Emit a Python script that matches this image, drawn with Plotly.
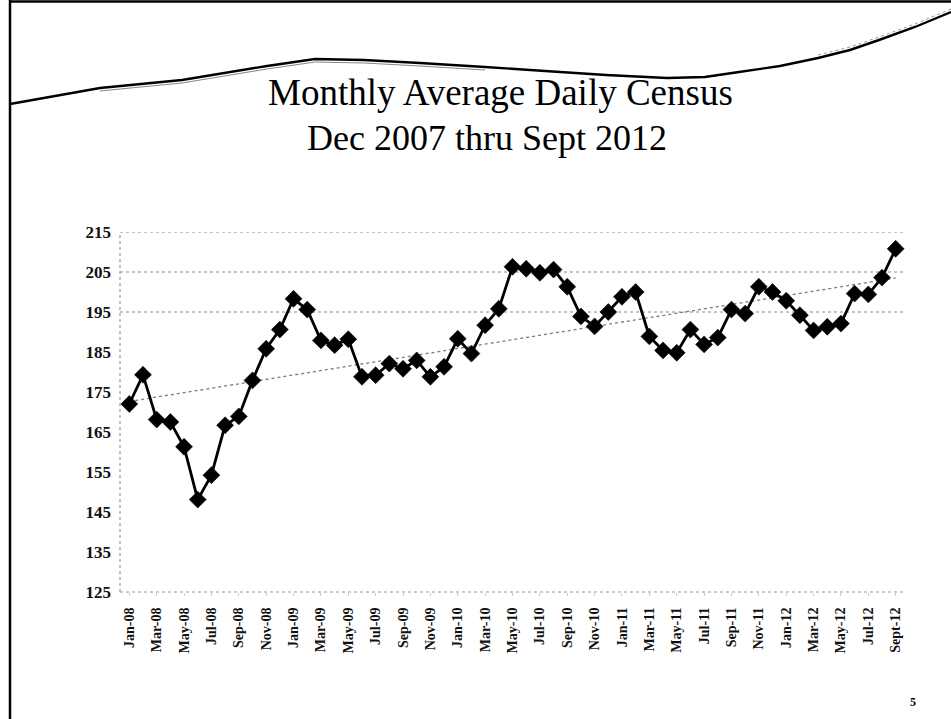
import numpy as np
import plotly.graph_objects as go

# ---------------- data ----------------
months = ["Jan-08", "Feb-08", "Mar-08", "Apr-08", "May-08", "Jun-08", "Jul-08", "Aug-08",
          "Sep-08", "Oct-08", "Nov-08", "Dec-08",
          "Jan-09", "Feb-09", "Mar-09", "Apr-09", "May-09", "Jun-09", "Jul-09", "Aug-09",
          "Sep-09", "Oct-09", "Nov-09", "Dec-09",
          "Jan-10", "Feb-10", "Mar-10", "Apr-10", "May-10", "Jun-10", "Jul-10", "Aug-10",
          "Sep-10", "Oct-10", "Nov-10", "Dec-10",
          "Jan-11", "Feb-11", "Mar-11", "Apr-11", "May-11", "Jun-11", "Jul-11", "Aug-11",
          "Sep-11", "Oct-11", "Nov-11", "Dec-11",
          "Jan-12", "Feb-12", "Mar-12", "Apr-12", "May-12", "Jun-12", "Jul-12", "Aug-12",
          "Sept-12"]

census = [172.0, 179.3, 168.1, 167.5, 161.3, 148.1, 154.2, 166.7, 168.9, 177.9, 185.8, 190.6,
          198.3, 195.6, 187.9, 186.7, 188.2, 178.8, 179.2, 182.1, 180.8, 182.9, 178.8, 181.3,
          188.3, 184.6, 191.7, 195.8, 206.3, 205.8, 204.8, 205.6, 201.3, 193.9, 191.4, 195.0,
          198.8, 200.0, 188.9, 185.4, 184.8, 190.6, 186.9, 188.6, 195.6, 194.6, 201.3, 200.0,
          197.8, 194.2, 190.4, 191.3, 192.1, 199.6, 199.4, 203.6, 210.8]

y_ticks = [125, 135, 145, 155, 165, 175, 185, 195, 205, 215]
visible_grid = [195, 205, 215]

title_line1 = "Monthly Average Daily Census"
title_line2 = "Dec 2007 thru Sept 2012"
page_number = "5"

# ---------------- layout geometry (pixels) ----------------
W, H = 951, 719
L, R, T, B = 120, 46, 232, 127
PW, PH = W - L - R, H - T - B


def px(x):
    return (x - L) / PW


def py(y):
    return (H - B - y) / PH


idx = np.arange(len(months))
coef = np.polyfit(idx, np.array(census), 1)
trend = np.polyval(coef, idx)

fig = go.Figure()

fig.add_trace(go.Scatter(
    x=idx, y=trend, mode="lines",
    line=dict(color="#7a7a7a", width=1.3, dash="dot"),
    hoverinfo="skip", showlegend=False))

fig.add_trace(go.Scatter(
    x=idx, y=census, mode="lines+markers",
    line=dict(color="black", width=2.8),
    marker=dict(symbol="diamond", size=13, color="black",
                line=dict(color="black", width=0.6)),
    showlegend=False))

shapes = []
for g in visible_grid:
    shapes.append(dict(type="line", xref="paper", yref="y", x0=0, x1=1, y0=g, y1=g,
                       line=dict(color="#8a8a8a", width=1, dash="dot"), layer="below"))
# dotted axis lines
shapes.append(dict(type="line", xref="paper", yref="paper", x0=0, x1=0, y0=0, y1=1,
                   line=dict(color="#8a8a8a", width=1, dash="dot"), layer="below"))
shapes.append(dict(type="line", xref="paper", yref="paper", x0=0, x1=1, y0=0, y1=0,
                   line=dict(color="#9a9a9a", width=1, dash="dot"), layer="below"))

# decorative wave across the slide header
wave = [(10, 104), (100, 88), (182, 80), (267, 66), (315, 59), (364, 60), (420, 63),
        (485, 67), (545, 71), (606, 75), (667, 78), (705, 77), (739, 72), (780, 66),
        (818, 58), (850, 50), (879, 40), (915, 27), (951, 12)]
path = "M " + " L ".join(f"{px(x):.5f},{py(y):.5f}" for x, y in wave)
shapes.append(dict(type="path", xref="paper", yref="paper", path=path,
                   line=dict(color="black", width=2.4)))
wave2 = [(x, y + 3) for x, y in wave[1:8]]
path2 = "M " + " L ".join(f"{px(x):.5f},{py(y):.5f}" for x, y in wave2)
shapes.append(dict(type="path", xref="paper", yref="paper", path=path2,
                   line=dict(color="#666", width=0.8)))
wave3 = [(x, y - 3) for x, y in wave[-5:]]
path3 = "M " + " L ".join(f"{px(x):.5f},{py(y):.5f}" for x, y in wave3)
shapes.append(dict(type="path", xref="paper", yref="paper", path=path3,
                   line=dict(color="#777", width=0.8, dash="dot")))

# slide frame (left and top edges)
shapes.append(dict(type="line", xref="paper", yref="paper",
                   x0=px(10), x1=px(10), y0=py(0), y1=py(H),
                   line=dict(color="black", width=2.5)))
shapes.append(dict(type="line", xref="paper", yref="paper",
                   x0=px(10), x1=px(W), y0=py(1.5), y1=py(1.5),
                   line=dict(color="black", width=2.5)))

annotations = [
    dict(text=title_line1, xref="paper", yref="paper", x=px(500), y=py(92),
         xanchor="center", yanchor="middle", showarrow=False,
         font=dict(family="Liberation Serif", size=37, color="black")),
    dict(text=title_line2, xref="paper", yref="paper", x=px(487), y=py(138),
         xanchor="center", yanchor="middle", showarrow=False,
         font=dict(family="Liberation Serif", size=36, color="black")),
    dict(text="<b>" + page_number + "</b>", xref="paper", yref="paper", x=px(913), y=py(702),
         xanchor="center", yanchor="middle", showarrow=False,
         font=dict(family="Liberation Serif", size=12, color="black")),
]

tick_idx = list(range(0, len(months), 2))

fig.update_layout(
    width=W, height=H, autosize=False,
    margin=dict(l=L, r=R, t=T, b=B, pad=0),
    paper_bgcolor="white", plot_bgcolor="white",
    shapes=shapes, annotations=annotations,
    xaxis=dict(range=[-0.68, len(months) - 1 + 0.68],
               tickmode="array", tickvals=tick_idx,
               ticktext=["<b>" + months[i] + "</b>" for i in tick_idx],
               tickangle=-90, showgrid=False, zeroline=False,
               showline=False,
               ticks="outside", ticklen=3, tickcolor="#cccccc",
               ticklabelstandoff=6,
               tickfont=dict(family="Liberation Serif", size=14, color="#111")),
    yaxis=dict(range=[125, 215], tickmode="array", tickvals=y_ticks,
               ticktext=["<b>" + str(v) + "</b>" for v in y_ticks],
               showgrid=False, zeroline=False, showline=False,
               ticks="", ticklabelstandoff=8,
               tickfont=dict(family="Liberation Serif", size=17, color="#111")),
)

fig.write_html("out.html", config={"displayModeBar": False},
               post_script="document.body.style.margin='0';")
